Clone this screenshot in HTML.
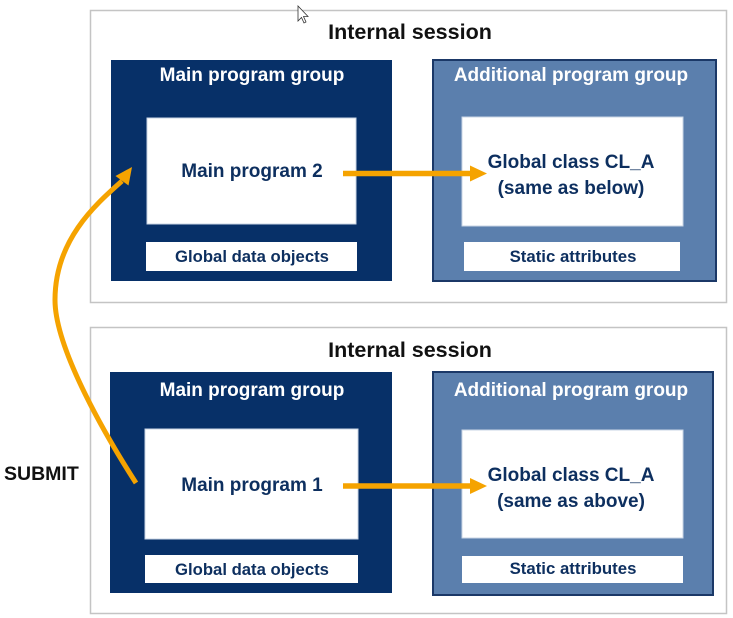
<!DOCTYPE html>
<html>
<head>
<meta charset="utf-8">
<style>
  html,body{margin:0;padding:0;background:#fff;}
  svg{display:block;}
  text{font-family:"Liberation Sans",Arial,sans-serif;font-weight:bold;}
</style>
</head>
<body>
<svg width="733" height="618" viewBox="0 0 733 618" xmlns="http://www.w3.org/2000/svg">
  <rect x="0" y="0" width="733" height="618" fill="#ffffff"/>

  <!-- Top internal session -->
  <rect x="90.5" y="10.5" width="636" height="292" fill="#ffffff" stroke="#c4c4c4" stroke-width="1.5"/>
  <text x="410" y="39" font-size="21.5" fill="#111111" text-anchor="middle">Internal session</text>

  <!-- Main program group (top) -->
  <rect x="111" y="60" width="281" height="221" fill="#073068"/>
  <text x="252" y="81" font-size="19" fill="#ffffff" text-anchor="middle">Main program group</text>
  <rect x="147" y="118" width="209" height="106" fill="#ffffff" stroke="#c9d5e5" stroke-width="1"/>
  <text x="252" y="177" font-size="19" fill="#0d2f5f" text-anchor="middle">Main program 2</text>
  <rect x="146" y="242" width="211" height="29" fill="#ffffff"/>
  <text x="252" y="262" font-size="16.7" fill="#0d2f5f" text-anchor="middle">Global data objects</text>

  <!-- Additional program group (top) -->
  <rect x="433" y="60" width="283" height="221" fill="#5b7fad" stroke="#1b3867" stroke-width="2"/>
  <text x="571" y="81" font-size="19" fill="#ffffff" text-anchor="middle">Additional program group</text>
  <rect x="462" y="117" width="221" height="109" fill="#ffffff" stroke="#c9d5e5" stroke-width="1"/>
  <text x="571" y="168" font-size="19" fill="#0d2f5f" text-anchor="middle">Global class CL_A</text>
  <text x="571" y="194" font-size="19" fill="#0d2f5f" text-anchor="middle">(same as below)</text>
  <rect x="464" y="242" width="216" height="29" fill="#ffffff"/>
  <text x="573" y="262" font-size="16.8" fill="#0d2f5f" text-anchor="middle">Static attributes</text>

  <!-- Bottom internal session -->
  <rect x="90.5" y="327.5" width="636" height="286" fill="#ffffff" stroke="#c4c4c4" stroke-width="1.5"/>
  <text x="410" y="357" font-size="21.5" fill="#111111" text-anchor="middle">Internal session</text>

  <!-- Main program group (bottom) -->
  <rect x="110" y="372" width="282" height="221" fill="#073068"/>
  <text x="252" y="396" font-size="19" fill="#ffffff" text-anchor="middle">Main program group</text>
  <rect x="145" y="429" width="213" height="110" fill="#ffffff" stroke="#c9d5e5" stroke-width="1"/>
  <text x="252" y="491" font-size="19" fill="#0d2f5f" text-anchor="middle">Main program 1</text>
  <rect x="145" y="555" width="213" height="28" fill="#ffffff"/>
  <text x="252" y="575" font-size="16.7" fill="#0d2f5f" text-anchor="middle">Global data objects</text>

  <!-- Additional program group (bottom) -->
  <rect x="433" y="372" width="280" height="223" fill="#5b7fad" stroke="#1b3867" stroke-width="2"/>
  <text x="571" y="396" font-size="19" fill="#ffffff" text-anchor="middle">Additional program group</text>
  <rect x="462" y="430" width="221" height="108" fill="#ffffff" stroke="#c9d5e5" stroke-width="1"/>
  <text x="571" y="481" font-size="19" fill="#0d2f5f" text-anchor="middle">Global class CL_A</text>
  <text x="571" y="507" font-size="19" fill="#0d2f5f" text-anchor="middle">(same as above)</text>
  <rect x="462" y="556" width="221" height="27" fill="#ffffff"/>
  <text x="573" y="574" font-size="16.8" fill="#0d2f5f" text-anchor="middle">Static attributes</text>

  <!-- SUBMIT label -->
  <text x="4" y="480" font-size="19.5" fill="#111111">SUBMIT</text>

  <!-- Horizontal arrows -->
  <line x1="343" y1="173.5" x2="472" y2="173.5" stroke="#f5a300" stroke-width="5.5"/>
  <polygon points="487,173.5 470,165.5 470,181.5" fill="#f5a300"/>
  <line x1="343" y1="486" x2="472" y2="486" stroke="#f5a300" stroke-width="5.5"/>
  <polygon points="487,486 470,478 470,494" fill="#f5a300"/>

  <!-- SUBMIT curved arrow -->
  <path d="M136,483 C109,441 55,350 55,300 C55,240 95,205 122,181" fill="none" stroke="#f5a300" stroke-width="5" stroke-linecap="butt"/>
  <polygon points="132,167 128.5,185.5 115.5,176" fill="#f5a300"/>

  <!-- mouse cursor -->
  <polygon points="298,6 298,21 301.5,17.5 304,23 306,22 303.5,16.5 308,16.5" fill="#ffffff" stroke="#333333" stroke-width="0.8"/>
</svg>
</body>
</html>
